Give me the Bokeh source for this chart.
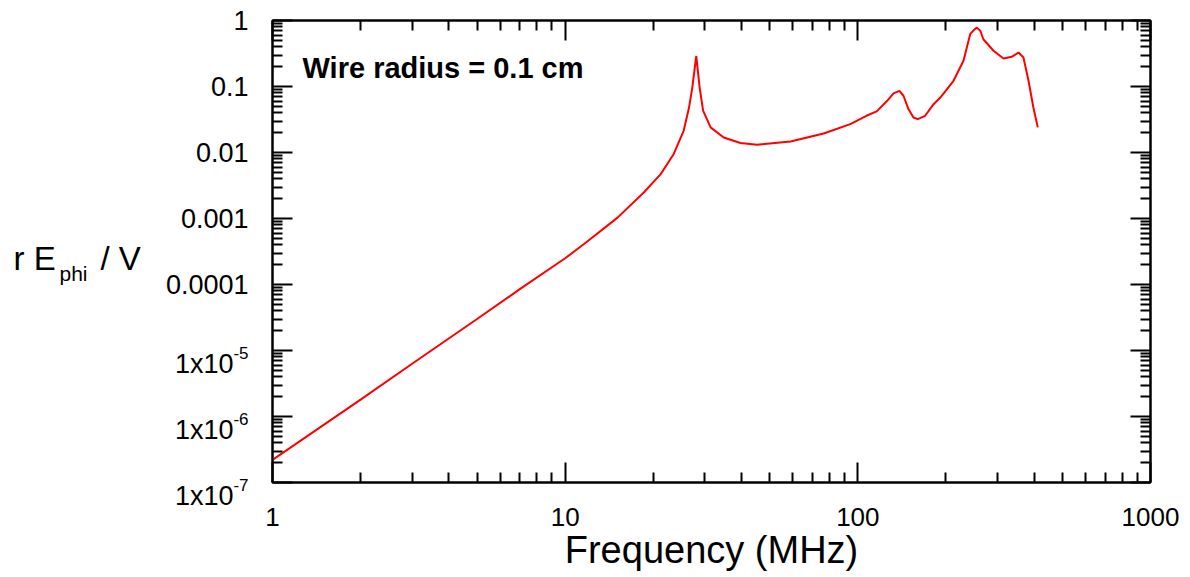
from bokeh.plotting import figure
from bokeh.layouts import row
from bokeh.models import FixedTicker, LogAxis, Label, CustomJSTickFormatter, Range1d, ColumnDataSource
from bokeh.core.properties import value
from bokeh.embed import file_html
from bokeh.resources import INLINE

# ---- data ----
freq_mhz = [1, 2, 3, 5, 7, 10, 11.6, 15.1, 18.6, 21.2, 23.5, 25.4, 26.5, 27.2, 28.05,
            28.8, 29.6, 31.4, 34.8, 39.7, 45.3, 58.9, 76.4, 94.2, 107, 116, 126, 132.4,
            138.7, 143.2, 148.9, 154.9, 160.3, 169.8, 181.5, 191.4, 212.3, 229.6, 242,
            248.5, 255, 262, 268.5, 290.7, 314.5, 335.7, 354, 368, 383, 398, 412]
r_ephi = [2.2e-7, 1.8e-6, 6.3e-6, 3.0e-5, 8.5e-5, 2.5e-4, 4.1e-4, 1.03e-3, 2.5e-3, 4.7e-3,
          9.5e-3, 0.0213, 0.048, 0.097, 0.29,
          0.097, 0.043, 0.024, 0.0169, 0.0139, 0.0131, 0.0147, 0.0194, 0.0269, 0.036,
          0.042, 0.0607, 0.0785, 0.086, 0.0724, 0.0455, 0.0339, 0.032, 0.036, 0.054,
          0.068, 0.122, 0.245, 0.62, 0.71, 0.78, 0.70, 0.52, 0.348, 0.265, 0.282, 0.327,
          0.275, 0.122, 0.048, 0.024]

x_ticks = [1, 10, 100, 1000]
y_ticks = [1e-7, 1e-6, 1e-5, 1e-4, 1e-3, 1e-2, 1e-1, 1]
y_dec_ticks = [1, 0.1, 0.01, 0.001, 0.0001]
y_dec_labels = ["1", "0.1", "0.01", "0.001", "0.0001"]
y_exp_ticks = [1e-5, 1e-6, 1e-7]
y_exp_base = ["1x10", "1x10", "1x10"]
y_exp_labels = ["-5", "-6", "-7"]
x_label = "Frequency (MHz)"
annotation_text = "Wire radius = 0.1 cm"

FONT = "Liberation Sans"
W, H = 1190, 577
LEFT_W = 252          # width of the left label strip
FRAME_LEFT = 272      # canvas x of plot frame left
TOP, BOTTOM = 20, 95  # borders above/below the frame
DEC_PX = (H - TOP - BOTTOM) / 7.0  # pixels per decade on y

# ---------------- main plot ----------------
p = figure(width=W - LEFT_W, height=H, x_axis_type="log", y_axis_type="log",
           x_range=Range1d(1, 1000), y_range=Range1d(1e-7, 1),
           output_backend="svg", toolbar_location=None,
           min_border_left=FRAME_LEFT - LEFT_W, min_border_right=40,
           min_border_top=TOP, min_border_bottom=BOTTOM)
p.frame_align = False
p.background_fill_color = "white"
p.border_fill_color = "white"
p.outline_line_color = "black"
p.outline_line_width = 2
p.xgrid.visible = False
p.ygrid.visible = False

x_minor = [m * 10 ** e for e in range(0, 3) for m in range(2, 10)]
y_minor = [m * 10.0 ** e for e in range(-7, 0) for m in range(2, 10)]

def style(ax, ticks, minor):
    ax.ticker = FixedTicker(ticks=ticks, minor_ticks=minor)
    ax.axis_line_color = "black"
    ax.axis_line_width = 2
    ax.major_tick_line_color = "black"
    ax.major_tick_line_width = 2
    ax.minor_tick_line_color = "black"
    ax.minor_tick_line_width = 2
    ax.major_tick_in = 20
    ax.major_tick_out = 0
    ax.minor_tick_in = 10
    ax.minor_tick_out = 0
    ax.major_label_text_font = FONT
    ax.major_label_text_color = "black"

blank = CustomJSTickFormatter(code="return '';")

xa = p.xaxis[0]
style(xa, x_ticks, x_minor)
xa.formatter = CustomJSTickFormatter(code="return String(Math.round(tick));")
xa.major_label_text_font_size = "26px"
xa.major_label_standoff = 25
xa.axis_label = x_label
xa.axis_label_text_font = FONT
xa.axis_label_text_font_size = "38px"
xa.axis_label_text_font_style = "normal"
xa.axis_label_text_color = "black"
xa.axis_label_standoff = 0

ya = p.yaxis[0]
style(ya, y_ticks, y_minor)
ya.formatter = blank
ya.major_label_standoff = 0

top = LogAxis()
style(top, x_ticks, x_minor)
top.formatter = blank
top.major_label_standoff = 0
p.add_layout(top, "above")

right = LogAxis()
style(right, y_ticks, y_minor)
right.formatter = blank
right.major_label_standoff = 0
p.add_layout(right, "right")

p.line(freq_mhz, r_ephi, line_color="#ff0000", line_width=2)

p.add_layout(Label(x=302 - FRAME_LEFT, y=H - BOTTOM - 67, x_units="screen", y_units="screen",
                   text=annotation_text, text_baseline="alphabetic", text_font=FONT,
                   text_font_size="29px", text_font_style="bold", text_color="black"))

# ---------------- left strip with y tick labels and y title ----------------
lo = 10 ** (-7 - BOTTOM / DEC_PX)
hi = 10 ** (TOP / DEC_PX)
L = figure(width=LEFT_W, height=H, y_axis_type="log",
           x_range=Range1d(0, LEFT_W), y_range=Range1d(lo, hi),
           x_axis_location=None, y_axis_location=None,
           output_backend="svg", toolbar_location=None,
           min_border_left=0, min_border_right=0, min_border_top=0, min_border_bottom=0)
L.frame_align = False
L.outline_line_color = None
L.xgrid.visible = False
L.ygrid.visible = False
L.background_fill_color = "white"
L.border_fill_color = "white"

lab_x = FRAME_LEFT - 24
dec_src = ColumnDataSource(dict(x=[lab_x] * len(y_dec_ticks), y=y_dec_ticks, t=y_dec_labels))
L.text(x="x", y="y", text="t", source=dec_src, text_align="right", text_baseline="middle",
       text_font=value(FONT), text_font_size="27px", text_color="black")

base_src = ColumnDataSource(dict(x=[lab_x - 15] * len(y_exp_ticks), y=y_exp_ticks, t=y_exp_base))
L.text(x="x", y="y", text="t", source=base_src, text_align="right", text_baseline="alphabetic",
       y_offset=13.6, text_font=value(FONT), text_font_size="27px", text_color="black")
exp_src = ColumnDataSource(dict(x=[lab_x] * len(y_exp_ticks), y=y_exp_ticks, t=y_exp_labels))
L.text(x="x", y="y", text="t", source=exp_src, text_align="right", text_baseline="alphabetic",
       y_offset=2, text_font=value(FONT), text_font_size="17px", text_color="black")

# y title "r E_phi / V"
L.add_layout(Label(x=13, y=H - 258, x_units="screen", y_units="screen", text="r E",
                   text_baseline="alphabetic", text_font=FONT, text_font_size="33px",
                   text_color="black"))
L.add_layout(Label(x=59, y=H - 273, x_units="screen", y_units="screen", text="phi",
                   text_baseline="alphabetic", text_font=FONT, text_font_size="21px",
                   text_color="black"))
L.add_layout(Label(x=100, y=H - 258, x_units="screen", y_units="screen", text="/ V",
                   text_baseline="alphabetic", text_font=FONT, text_font_size="33px",
                   text_color="black"))

layout = row(L, p)
open("out.html", "w").write(file_html(layout, INLINE))
